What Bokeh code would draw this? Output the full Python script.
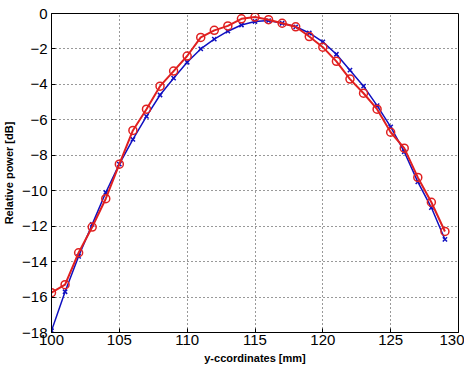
from bokeh.plotting import figure
from bokeh.embed import file_html
from bokeh.resources import INLINE
from bokeh.models import Range1d, FixedTicker

x_mm = list(range(100, 130))
red_db = [-15.75, -15.3, -13.5, -12.05, -10.45, -8.5, -6.6, -5.4, -4.1, -3.25,
          -2.4, -1.35, -0.95, -0.7, -0.3, -0.2, -0.35, -0.55, -0.75, -1.3,
          -1.9, -2.7, -3.7, -4.5, -5.4, -6.7, -7.6, -9.25, -10.65, -12.3]
blue_db = [-17.9, -15.7, -13.7, -11.9, -10.1, -8.5, -7.1, -5.8, -4.6, -3.65,
           -2.75, -2.0, -1.45, -1.0, -0.65, -0.45, -0.4, -0.55, -0.75, -1.1,
           -1.6, -2.3, -3.2, -4.1, -5.2, -6.4, -7.8, -9.5, -10.95, -12.75]
x_ticks = [100, 105, 110, 115, 120, 125, 130]
y_ticks = [0, -2, -4, -6, -8, -10, -12, -14, -16, -18]

p = figure(frame_width=407, frame_height=319, output_backend="svg", toolbar_location=None,
           x_range=Range1d(100, 130), y_range=Range1d(-18, 0),
           min_border_left=51, min_border_right=6, min_border_top=13, min_border_bottom=36)
p.background_fill_color = "white"
p.border_fill_color = "white"
p.outline_line_color = "black"
p.outline_line_width = 1

p.xaxis.ticker = FixedTicker(ticks=x_ticks)
p.yaxis.ticker = FixedTicker(ticks=y_ticks)
for ax in (p.xaxis[0], p.yaxis[0]):
    ax.major_tick_in = 4
    ax.major_tick_out = 0
    ax.minor_tick_in = 0
    ax.minor_tick_out = 0
    ax.axis_line_color = "black"
    ax.major_label_text_font = "Liberation Sans"
    ax.major_label_text_font_size = "15px"
    ax.major_label_text_color = "black"
    ax.axis_label_text_font = "Liberation Sans"
    ax.axis_label_text_font_size = "11px"
    ax.axis_label_text_font_style = "bold"
    ax.axis_label_text_color = "black"
p.xaxis.axis_label = "y-ccordinates [mm]"
p.yaxis.axis_label = "Relative power [dB]"
p.xaxis.major_label_standoff = 2
p.yaxis.major_label_standoff = 4
p.xaxis.axis_label_standoff = 4
p.yaxis.axis_label_standoff = 4

p.grid.grid_line_color = "#333333"
p.grid.grid_line_dash = "1 3"
p.grid.grid_line_width = 1

p.line(x_mm, blue_db, line_color="#1010c0", line_width=1.5)
p.scatter(x_mm, blue_db, marker="x", size=6, line_color="#1010c0", line_width=1.5)
p.line(x_mm, red_db, line_color="#e02020", line_width=2)
p.scatter(x_mm, red_db, marker="circle", size=8, line_color="#e02020",
          fill_color=None, line_width=1.5)

open("out.html", "w").write(file_html(p, INLINE))
